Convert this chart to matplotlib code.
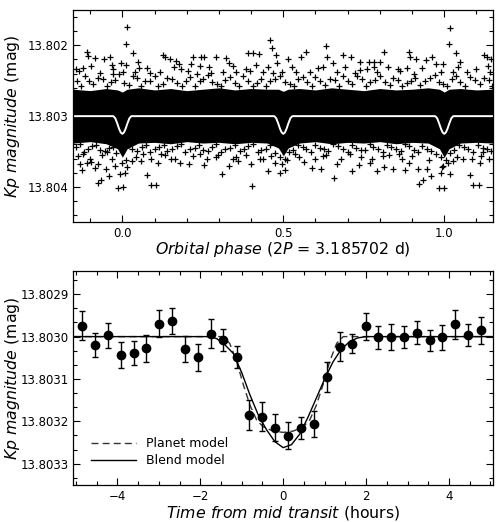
import numpy as np
import matplotlib
matplotlib.use("Agg")
import matplotlib.pyplot as plt
from matplotlib.ticker import MultipleLocator, AutoMinorLocator, FormatStrFormatter

plt.rcParams["font.family"] = "DejaVu Sans"
plt.rcParams["mathtext.fontset"] = "dejavusans"

# ---- top panel: phase-folded light curve ----
# dense core of the cloud (solid black), edges
band_phase = [-0.152, -0.10, -0.05, -0.015, 0.0, 0.015, 0.05, 0.10, 0.15, 0.20,
              0.25, 0.30, 0.35, 0.40, 0.45, 0.485, 0.50, 0.515, 0.55, 0.60,
              0.65, 0.70, 0.75, 0.80, 0.85, 0.90, 0.95, 0.985, 1.0, 1.015,
              1.05, 1.10, 1.15]
band_top = [13.80262, 13.80264, 13.80261, 13.80263, 13.80266, 13.80262, 13.80260,
            13.80263, 13.80261, 13.80264, 13.80262, 13.80260, 13.80263, 13.80261,
            13.80262, 13.80262, 13.80265, 13.80262, 13.80261, 13.80263, 13.80260,
            13.80262, 13.80264, 13.80261, 13.80263, 13.80262, 13.80260, 13.80262,
            13.80266, 13.80262, 13.80261, 13.80263, 13.80262]
band_bot = [13.80338, 13.80336, 13.80339, 13.80346, 13.80358, 13.80346, 13.80338,
            13.80337, 13.80339, 13.80336, 13.80338, 13.80337, 13.80339, 13.80337,
            13.80338, 13.80345, 13.80356, 13.80345, 13.80338, 13.80336, 13.80339,
            13.80337, 13.80338, 13.80336, 13.80339, 13.80337, 13.80338, 13.80346,
            13.80358, 13.80346, 13.80338, 13.80337, 13.80338]

# ragged fringe just outside the core (two rows above, two below)
fringe_up = [(-0.14, 13.80250), (-0.115, 13.80244), (-0.09, 13.80255), (-0.06, 13.80247),
             (-0.035, 13.80252), (-0.01, 13.80241), (0.02, 13.80256), (0.045, 13.80246),
             (0.07, 13.80251), (0.10, 13.80243), (0.125, 13.80254), (0.155, 13.80248),
             (0.185, 13.80257), (0.21, 13.80245), (0.24, 13.80250), (0.265, 13.80242),
             (0.295, 13.80255), (0.32, 13.80249), (0.35, 13.80253), (0.375, 13.80244),
             (0.405, 13.80257), (0.43, 13.80247), (0.46, 13.80251), (0.49, 13.80243),
             (0.52, 13.80255), (0.545, 13.80248), (0.575, 13.80252), (0.60, 13.80245),
             (0.63, 13.80256), (0.66, 13.80249), (0.685, 13.80243), (0.715, 13.80254),
             (0.745, 13.80247), (0.77, 13.80252), (0.80, 13.80244), (0.83, 13.80256),
             (0.855, 13.80249), (0.885, 13.80253), (0.91, 13.80246), (0.94, 13.80251),
             (0.97, 13.80242), (0.995, 13.80255), (1.025, 13.80248), (1.05, 13.80252),
             (1.08, 13.80245), (1.11, 13.80254), (1.14, 13.80249),
             (-0.128, 13.80257), (-0.103, 13.80251), (-0.077, 13.80246), (-0.048, 13.80258),
             (-0.022, 13.80249), (0.005, 13.80253), (0.032, 13.80244), (0.058, 13.80257),
             (0.085, 13.80250), (0.112, 13.80258), (0.14, 13.80246), (0.17, 13.80253),
             (0.197, 13.80250), (0.225, 13.80257), (0.252, 13.80247), (0.28, 13.80252),
             (0.308, 13.80258), (0.335, 13.80245), (0.362, 13.80257), (0.39, 13.80250),
             (0.418, 13.80253), (0.445, 13.80258), (0.475, 13.80248), (0.505, 13.80252),
             (0.532, 13.80258), (0.56, 13.80245), (0.588, 13.80257), (0.615, 13.80251),
             (0.645, 13.80247), (0.672, 13.80257), (0.70, 13.80250), (0.73, 13.80244),
             (0.757, 13.80258), (0.785, 13.80249), (0.815, 13.80252), (0.842, 13.80246),
             (0.87, 13.80258), (0.898, 13.80250), (0.925, 13.80256), (0.955, 13.80246),
             (0.983, 13.80252), (1.01, 13.80258), (1.038, 13.80244), (1.065, 13.80257),
             (1.095, 13.80249), (1.122, 13.80246), (1.148, 13.80257)]
fringe_up2 = [(-0.135, 13.80236), (-0.097, 13.80229), (-0.068, 13.80239), (-0.028, 13.80233),
              (0.012, 13.80228), (0.04, 13.80237), (0.078, 13.80232), (0.118, 13.80238),
              (0.16, 13.80230), (0.205, 13.80236), (0.232, 13.80240), (0.27, 13.80231),
              (0.313, 13.80237), (0.345, 13.80229), (0.398, 13.80236), (0.452, 13.80231),
              (0.497, 13.80237), (0.528, 13.80230), (0.582, 13.80238), (0.607, 13.80232),
              (0.668, 13.80237), (0.693, 13.80231), (0.722, 13.80239), (0.76, 13.80233),
              (0.792, 13.80238), (0.825, 13.80230), (0.862, 13.80236), (0.905, 13.80240),
              (0.932, 13.80232), (0.99, 13.80237), (1.042, 13.80231), (1.072, 13.80238),
              (1.10, 13.80233), (1.143, 13.80237)]
fringe_lo = [(-0.145, 13.80344), (-0.12, 13.80350), (-0.095, 13.80342), (-0.07, 13.80348),
             (-0.04, 13.80345), (-0.02, 13.80352), (0.01, 13.80362), (0.03, 13.80347),
             (0.06, 13.80343), (0.085, 13.80350), (0.115, 13.80344), (0.14, 13.80349),
             (0.17, 13.80342), (0.195, 13.80351), (0.225, 13.80345), (0.25, 13.80348),
             (0.28, 13.80343), (0.305, 13.80350), (0.335, 13.80345), (0.365, 13.80349),
             (0.39, 13.80342), (0.42, 13.80351), (0.445, 13.80346), (0.475, 13.80352),
             (0.505, 13.80360), (0.53, 13.80348), (0.56, 13.80343), (0.585, 13.80350),
             (0.615, 13.80345), (0.64, 13.80349), (0.67, 13.80342), (0.70, 13.80351),
             (0.725, 13.80345), (0.755, 13.80348), (0.78, 13.80343), (0.81, 13.80350),
             (0.835, 13.80344), (0.865, 13.80349), (0.89, 13.80342), (0.92, 13.80351),
             (0.945, 13.80346), (0.975, 13.80353), (1.005, 13.80362), (1.03, 13.80348),
             (1.06, 13.80343), (1.09, 13.80350), (1.12, 13.80345), (1.145, 13.80349),
             (-0.132, 13.80340), (-0.107, 13.80346), (-0.082, 13.80341), (-0.055, 13.80349),
             (-0.028, 13.80343), (0.0, 13.80366), (0.022, 13.80341), (0.047, 13.80349),
             (0.072, 13.80341), (0.1, 13.80347), (0.128, 13.80341), (0.155, 13.80346),
             (0.182, 13.80340), (0.21, 13.80347), (0.238, 13.80341), (0.265, 13.80349),
             (0.292, 13.80340), (0.32, 13.80346), (0.35, 13.80341), (0.378, 13.80347),
             (0.405, 13.80340), (0.432, 13.80348), (0.46, 13.80341), (0.49, 13.80358),
             (0.518, 13.80350), (0.545, 13.80341), (0.572, 13.80347), (0.6, 13.80341),
             (0.628, 13.80346), (0.655, 13.80340), (0.685, 13.80347), (0.712, 13.80341),
             (0.74, 13.80348), (0.768, 13.80340), (0.795, 13.80346), (0.822, 13.80341),
             (0.85, 13.80347), (0.878, 13.80340), (0.905, 13.80348), (0.932, 13.80342),
             (0.96, 13.80349), (0.99, 13.80358), (1.018, 13.80352), (1.045, 13.80341),
             (1.075, 13.80347), (1.105, 13.80341), (1.132, 13.80346)]
fringe_lo2 = [(-0.138, 13.80356), (-0.102, 13.80360), (-0.062, 13.80355), (-0.033, 13.80361),
              (0.015, 13.80372), (0.043, 13.80357), (0.09, 13.80361), (0.133, 13.80355),
              (0.163, 13.80360), (0.218, 13.80356), (0.262, 13.80361), (0.298, 13.80355),
              (0.353, 13.80358), (0.383, 13.80355), (0.428, 13.80361), (0.463, 13.80356),
              (0.497, 13.80368), (0.512, 13.80362), (0.548, 13.80357), (0.598, 13.80361),
              (0.632, 13.80355), (0.678, 13.80360), (0.742, 13.80357), (0.775, 13.80361),
              (0.828, 13.80355), (0.87, 13.80360), (0.9, 13.80356), (0.952, 13.80362),
              (0.992, 13.80372), (1.012, 13.80366), (1.04, 13.80357), (1.085, 13.80361),
              (1.115, 13.80356), (1.14, 13.80360)]

# individually visible outliers
out_up = [(0.0155, 13.801746), (0.0124, 13.80198), (0.034, 13.802107), (-0.109, 13.80210),
          (-0.106, 13.80215), (-0.085, 13.80218), (-0.058, 13.80219), (-0.037, 13.80216),
          (-0.031, 13.80228), (-0.003, 13.80225), (0.002, 13.80237), (0.049, 13.80224),
          (0.052, 13.80232), (0.127, 13.80214), (0.132, 13.80217), (0.147, 13.80220),
          (0.168, 13.80222), (0.176, 13.80226), (0.220, 13.80216), (0.245, 13.80216),
          (0.253, 13.80217), (0.290, 13.80216), (0.323, 13.80218), (0.331, 13.80225),
          (0.390, 13.80211), (0.406, 13.80211), (0.423, 13.80212), (0.458, 13.80192),
          (0.464, 13.80204), (0.476, 13.80214), (0.480, 13.80225), (0.416, 13.80228),
          (0.214, 13.80226), (0.183, 13.80234), (0.240, 13.80229), (-0.143, 13.80234),
          (-0.122, 13.80232), (-0.029, 13.80241), (0.085, 13.80239), (0.276, 13.80239),
          (0.354, 13.80237), (0.385, 13.80234), (0.437, 13.80238), (0.468, 13.80239),
          (1.0168, 13.80175), (1.0135, 13.80198), (1.035, 13.80211), (0.515, 13.80219),
          (0.556, 13.80217), (0.570, 13.80209), (0.634, 13.80201), (0.637, 13.80216),
          (0.655, 13.80225), (0.684, 13.80214), (0.711, 13.80217), (0.737, 13.80223),
          (0.766, 13.80224), (0.781, 13.80223), (0.801, 13.80224), (0.813, 13.80210),
          (0.890, 13.80209), (0.894, 13.80216), (0.913, 13.80220), (0.942, 13.80221),
          (0.963, 13.80217), (0.975, 13.80227), (0.996, 13.80227), (1.050, 13.80223),
          (1.125, 13.80213), (1.133, 13.80217), (1.136, 13.80229), (1.146, 13.80220),
          (0.541, 13.80237), (0.623, 13.80230), (0.739, 13.80235), (0.783, 13.80230),
          (0.856, 13.80234), (1.027, 13.80237), (0.884, 13.80232)]
out_lo = [(-0.013, 13.80401), (0.002, 13.80400), (0.088, 13.80397), (0.106, 13.80397),
          (0.403, 13.80398), (-0.076, 13.80395), (-0.065, 13.80390), (-0.041, 13.80385),
          (0.077, 13.80383), (0.310, 13.80381), (-0.008, 13.80382), (0.007, 13.80380),
          (-0.124, 13.80376), (-0.051, 13.80374), (-0.084, 13.80373), (-0.132, 13.80367),
          (-0.111, 13.80366), (-0.096, 13.80365), (-0.075, 13.80368), (-0.024, 13.80371),
          (0.031, 13.80363), (0.059, 13.80364), (0.111, 13.80366), (0.150, 13.80360),
          (0.178, 13.80366), (0.207, 13.80367), (0.253, 13.80369), (0.331, 13.80370),
          (0.360, 13.80363), (0.401, 13.80367), (0.453, 13.80377), (0.474, 13.80366),
          (0.489, 13.80380), (0.121, 13.80353), (0.240, 13.80353), (0.292, 13.80358),
          (0.343, 13.80360), (-0.122, 13.80353), (-0.049, 13.80351), (0.064, 13.80353),
          (0.437, 13.80360), (0.985, 13.80401), (1.000, 13.80401), (1.089, 13.80397),
          (1.108, 13.80397), (0.923, 13.80396), (0.934, 13.80390), (0.960, 13.80385),
          (0.991, 13.80380), (1.079, 13.80383), (0.656, 13.80387), (0.792, 13.80378),
          (0.813, 13.80372), (0.841, 13.80374), (0.877, 13.80376), (0.918, 13.80374),
          (0.946, 13.80374), (0.714, 13.80377), (0.618, 13.80375), (0.590, 13.80373),
          (0.505, 13.80376), (0.563, 13.80365), (0.668, 13.80368), (0.735, 13.80369),
          (0.768, 13.80366), (1.110, 13.80366), (1.027, 13.80363), (1.058, 13.80360),
          (0.892, 13.80366), (0.997, 13.80370), (1.017, 13.80381), (0.535, 13.80353),
          (0.623, 13.80356), (0.706, 13.80353), (0.809, 13.80356), (0.861, 13.80354),
          (1.120, 13.80351)]

# white model: flat baseline with one dip shape repeated at each transit
model_base = 13.80300
transit_centres = [0.0, 0.5, 1.0]
dip_dphase = [-0.028, -0.022, -0.016, -0.010, -0.005, 0.0, 0.005, 0.010, 0.016, 0.022, 0.028]
dip_mag = [13.80300, 13.80303, 13.80310, 13.80318, 13.80323, 13.80325,
           13.80323, 13.80318, 13.80310, 13.80303, 13.80300]

# ---- bottom panel: binned transit ----
bin_hours = [-4.85, -4.54, -4.23, -3.91, -3.60, -3.30, -2.99, -2.68, -2.36, -2.06,
             -1.74, -1.44, -1.12, -0.82, -0.50, -0.19, 0.12, 0.43, 0.74, 1.05,
             1.36, 1.66, 1.99, 2.29, 2.60, 2.91, 3.22, 3.53, 3.84, 4.15, 4.46, 4.77]
bin_mag = [13.802974, 13.803020, 13.802997, 13.803043, 13.803039, 13.803028, 13.802970,
           13.802963, 13.803029, 13.803049, 13.802993, 13.803009, 13.803049, 13.803185,
           13.803189, 13.803215, 13.803234, 13.803215, 13.803206, 13.803095, 13.803024,
           13.803017, 13.802976, 13.803002, 13.803001, 13.803001, 13.802991, 13.803009,
           13.803002, 13.802971, 13.802996, 13.802985]
bin_err = [3.35e-5, 2.8e-5, 3.0e-5, 3.1e-5, 2.8e-5, 3.2e-5, 3.2e-5, 3.1e-5, 3.1e-5, 3.1e-5,
           3.5e-5, 2.6e-5, 2.6e-5, 3.6e-5, 3.4e-5, 3.2e-5, 3.2e-5, 2.6e-5, 3.0e-5, 3.6e-5,
           3.4e-5, 2.2e-5, 3.2e-5, 2.7e-5, 3.1e-5, 2.7e-5, 2.7e-5, 2.4e-5, 3.0e-5, 3.4e-5,
           2.6e-5, 3.2e-5]

planet_hours = [-5.05, -1.45, -1.29, -1.12, -0.96, -0.80, -0.64, -0.48, -0.24, 0.0,
                0.24, 0.48, 0.64, 0.80, 0.96, 1.12, 1.29, 1.45, 5.05]
planet_mag = [13.80300, 13.80300, 13.803016, 13.803059, 13.803114, 13.803162, 13.803197,
              13.803213, 13.803223, 13.803226, 13.803223, 13.803213, 13.803197, 13.803162,
              13.803114, 13.803059, 13.803016, 13.80300, 13.80300]
blend_hours = [-5.05, -1.75, -1.6, -1.4, -1.2, -1.0, -0.8, -0.6, -0.4, -0.2, 0.0,
               0.2, 0.4, 0.6, 0.8, 1.0, 1.2, 1.4, 1.6, 1.8, 2.0, 5.05]
blend_mag = [13.80300, 13.80300, 13.803005, 13.803020, 13.803040, 13.803085, 13.803138,
             13.803185, 13.803220, 13.803248, 13.803262, 13.803255, 13.803230, 13.803190,
             13.803145, 13.803100, 13.803060, 13.803030, 13.803012, 13.803003, 13.80300,
             13.80300]


def style_axes(ax, xmaj, xmin, ymaj, nymin, yfmt):
    ax.xaxis.set_major_locator(MultipleLocator(xmaj))
    ax.xaxis.set_minor_locator(MultipleLocator(xmin))
    ax.yaxis.set_major_locator(MultipleLocator(ymaj))
    ax.yaxis.set_minor_locator(AutoMinorLocator(nymin))
    ax.yaxis.set_major_formatter(FormatStrFormatter(yfmt))
    ax.tick_params(which="both", direction="in", top=True, right=True,
                   labelsize=8.5, width=0.8)
    ax.tick_params(which="major", length=5)
    ax.tick_params(which="minor", length=2.8)
    for sp in ax.spines.values():
        sp.set_linewidth(0.9)


fig = plt.figure(figsize=(4.96, 5.22), dpi=100)
ax1 = fig.add_axes([0.148, 0.574, 0.845, 0.407])
ax2 = fig.add_axes([0.148, 0.071, 0.845, 0.410])

# top panel
ax1.fill_between(band_phase, band_top, band_bot, color="black", lw=0)
pts = np.array(fringe_up + fringe_up2 + fringe_lo + fringe_lo2 + out_up + out_lo)
ax1.plot(pts[:, 0], pts[:, 1], "+", color="black", ms=5, mew=0.9)

mph = [-0.152]
mmg = [model_base]
for c in transit_centres:
    mph += [c + d for d in dip_dphase]
    mmg += dip_mag
mph.append(1.15)
mmg.append(model_base)
ax1.plot(mph, mmg, color="white", lw=1.4)

ax1.set_xlim(-0.152, 1.15)
ax1.set_ylim(13.8045, 13.8015)
style_axes(ax1, 0.5, 0.1, 0.001, 5, "%.3f")
ax1.xaxis.set_major_formatter(FormatStrFormatter("%.1f"))
ax1.set_xlabel(r"$\it{Orbital\ phase}$ (2$\it{P}$ = 3.185702 d)", fontsize=11.3)
ax1.set_ylabel(r"$\it{Kp\ magnitude}$ (mag)", fontsize=11.3)
ax1.xaxis.set_label_coords(0.5, -0.085)
ax1.yaxis.set_label_coords(-0.122, 0.5)

# bottom panel
ax2.plot(planet_hours, planet_mag, color="#333333", lw=1.0, dashes=(5, 3),
         label="Planet model")
ax2.plot(blend_hours, blend_mag, color="black", lw=1.0, label="Blend model")
ax2.errorbar(bin_hours, bin_mag, yerr=bin_err, fmt="o", color="black", ms=6,
             elinewidth=1.0, capsize=2, capthick=1.0)

ax2.set_xlim(-5.06, 5.05)
ax2.set_ylim(13.80335, 13.802845)
style_axes(ax2, 2, 0.5, 0.0001, 3, "%.4f")
ax2.set_xlabel(r"$\it{Time\ from\ mid\ transit}$ (hours)", fontsize=11.3)
ax2.set_ylabel(r"$\it{Kp\ magnitude}$ (mag)", fontsize=11.3)
ax2.xaxis.set_label_coords(0.5, -0.09)
ax2.yaxis.set_label_coords(-0.122, 0.5)
ax2.legend(loc="lower left", frameon=False, fontsize=9, handlelength=3.6,
           handletextpad=0.8, borderaxespad=1.0, labelspacing=0.35)

fig.savefig("out.png", dpi=100)
